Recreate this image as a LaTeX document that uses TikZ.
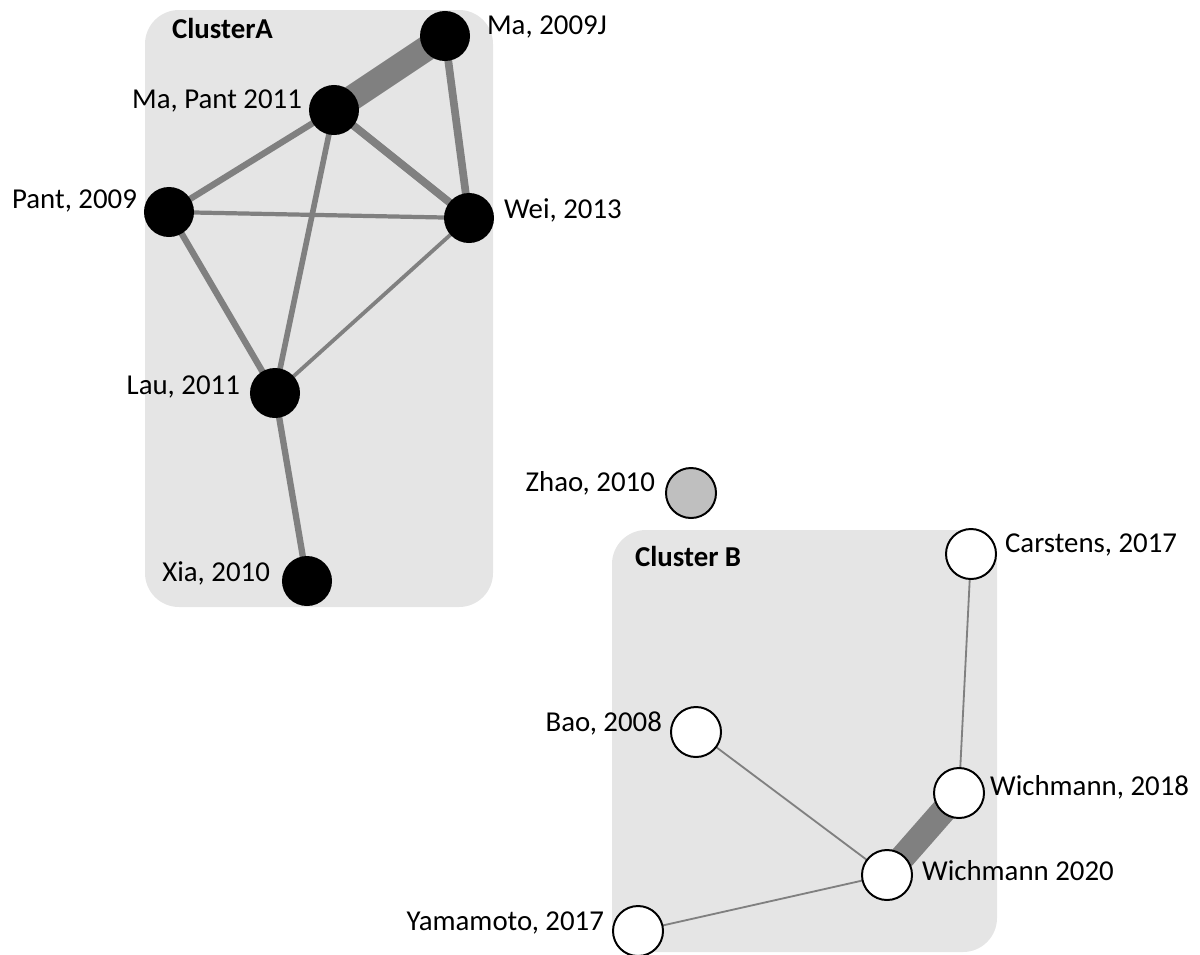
\documentclass[tikz,border=0pt]{standalone}
\usepackage{fontspec}
\setmainfont{Carlito}
\usetikzlibrary{backgrounds}
\begin{document}
\begin{tikzpicture}[x=0.025cm, y=-0.025cm,
        paper/.style={circle, minimum size=1.25cm, inner sep=0pt},
        pa/.style={paper, fill=black},
        pb/.style={paper, draw=black, line width=1.4pt, fill=white},
        lbl/.style={font=\fontsize{20.5}{24}\selectfont, inner sep=2pt},
        cluster/.style={fill=gray!20, rounded corners=0.85cm},
        link/.style={draw=gray, line width=#1}]
        \useasboundingbox (0,0) rectangle (1200,954);

        % papers
        \node[pa] (maj) at (445,36) {};
        \node[pa] (mapant) at (334,110) {};
        \node[pa] (pant) at (169,212) {};
        \node[pa] (wei) at (469,218) {};
        \node[pa] (lau) at (275,393) {};
        \node[pa] (xia) at (307,581) {};
        \node[pb, fill=gray!50] (zhao) at (691,493) {};
        \node[pb] (carstens) at (971,554) {};
        \node[pb] (bao) at (696,732) {};
        \node[pb] (wich18) at (959,793) {};
        \node[pb] (wich20) at (887,875) {};
        \node[pb] (yama) at (638,931) {};

        \node[lbl, anchor=west] (tmaj) at (484,27) {Ma, 2009J};
        \node[lbl, anchor=west] (twei) at (501,210) {Wei, 2013};
        \node[lbl, anchor=west] (tcarstens) at (1002,545) {Carstens, 2017};
        \node[lbl, anchor=west] (twich18) at (987,787) {Wichmann, 2018};
        \node[lbl, anchor=west] (twich20) at (919,871) {Wichmann 2020};
        \node[lbl, anchor=east] (tmapant) at (305,101) {Ma, Pant 2011};
        \node[lbl, anchor=east] (tpant) at (140,201) {Pant, 2009};
        \node[lbl, anchor=east] (tlau) at (243,387) {Lau, 2011};
        \node[lbl, anchor=east] (txia) at (273,573) {Xia, 2010};
        \node[lbl, anchor=east] (tzhao) at (658,483) {Zhao, 2010};
        \node[lbl, anchor=east] (tbao) at (665,723) {Bao, 2008};
        \node[lbl, anchor=east] (tyama) at (607,923) {Yamamoto, 2017};

        \begin{scope}[on background layer]
            \fill[cluster] (145,10) rectangle (493,607);
            \fill[cluster] (612,530) rectangle (997,952);
            \node[lbl, anchor=west] (ca) at (169,28) {\textbf{ClusterA}};
            \node[lbl, anchor=west] (cb) at (632,556) {\textbf{Cluster B}};

            % cluster A links
            \draw[link=18pt] (maj.center) -- (mapant.center);
            \draw[link=5.5pt] (maj.center) -- (wei.center);
            \draw[link=5.5pt] (mapant.center) -- (wei.center);
            \draw[link=4.5pt] (mapant.center) -- (pant.center);
            \draw[link=4pt] (mapant.center) -- (lau.center);
            \draw[link=3pt] (pant.center) -- (wei.center);
            \draw[link=4.5pt] (pant.center) -- (lau.center);
            \draw[link=2.7pt] (wei.center) -- (lau.center);
            \draw[link=4.5pt] (lau.center) -- (xia.center);

            % cluster B links
            \draw[link=1.3pt] (carstens.center) -- (wich18.center);
            \draw[link=18pt] (wich18.center) -- (wich20.center);
            \draw[link=1.3pt] (bao.center) -- (wich20.center);
            \draw[link=1.3pt] (yama.center) -- (wich20.center);
        \end{scope}
    \end{tikzpicture}
\end{document}
